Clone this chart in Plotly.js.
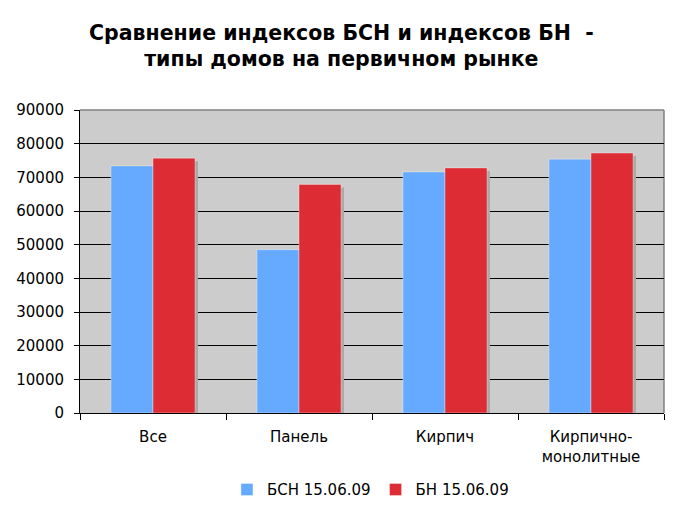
<!DOCTYPE html>
<html>
<head>
<meta charset="utf-8">
<script src="https://cdn.plot.ly/plotly-3.0.1.min.js"></script>
<style>html,body{margin:0;padding:0;background:#fff;}#chart{width:676px;height:507px;}</style>
</head>
<body>
<div id="chart"></div>
<script>
const categories = ["Все", "Панель", "Кирпич", "Кирпично-<br>монолитные"];
const seriesNames = ["БСН 15.06.09", "БН 15.06.09"];
const bsnValues = [73400, 48500, 71600, 75400];
const bnValues = [75700, 67900, 72800, 77200];
const yTicks = [0, 10000, 20000, 30000, 40000, 50000, 60000, 70000, 80000, 90000];

const FONT = "DejaVu Sans, Verdana, sans-serif";
const BLUE = "#65aaff";
const RED = "#dd2c33";
const W = 0.288;

function shadow(vals, off) {
  return {type: "bar", x: categories, y: vals, width: W, offset: off + 0.02, base: -900,
    marker: {color: "#a9a9a9", line: {width: 0}}, showlegend: false, hoverinfo: "skip"};
}

const data = [
  shadow(bsnValues, -W),
  shadow(bnValues, 0),
  {type: "bar", name: seriesNames[0], x: categories, y: bsnValues, width: W, offset: -W,
    marker: {color: BLUE, line: {color: "rgba(255,255,255,0.35)", width: 1}}},
  {type: "bar", name: seriesNames[1], x: categories, y: bnValues, width: W, offset: 0,
    marker: {color: RED, line: {color: "rgba(255,255,255,0.35)", width: 1}}}
];

const layout = {
  width: 676, height: 507,
  paper_bgcolor: "#ffffff", plot_bgcolor: "#cccccc",
  barmode: "overlay",
  margin: {l: 80, r: 12, t: 110, b: 94},
  font: {family: FONT, size: 15, color: "#000"},
  title: {text: "<b>Сравнение индексов БСН и индексов БН  -<br>типы домов на первичном рынке</b>",
    font: {family: FONT, size: 20.5, color: "#000"},
    x: 0.505, xanchor: "center", xref: "container", y: 0.922, yref: "container", yanchor: "top"},
  xaxis: {type: "category", tickson: "boundaries", ticks: "outside", ticklen: 6, tickcolor: "#000",
    showline: true, linecolor: "#000", linewidth: 1, showgrid: false,
    tickfont: {family: FONT, size: 15}, range: [-0.5, 3.5], ticklabelstandoff: 10},
  yaxis: {range: [0, 90000], tickvals: yTicks, tickformat: "d", ticks: "outside", ticklen: 5, tickcolor: "#000",
    showline: true, linecolor: "#000", linewidth: 1, showgrid: true, gridcolor: "#000", gridwidth: 1,
    zeroline: false, tickfont: {family: FONT, size: 15}, ticklabelstandoff: 7},
  shapes: [
    {type: "line", xref: "paper", yref: "paper", x0: 0, x1: 1, y0: 1, y1: 1, layer: "between", line: {color: "#808080", width: 1.5}},
    {type: "line", xref: "paper", yref: "paper", x0: 1, x1: 1, y0: 0, y1: 1, layer: "between", line: {color: "#808080", width: 1.5}}
  ],
  legend: {orientation: "h", x: 0.548, xanchor: "center", xref: "container", y: 0.034, yref: "container", yanchor: "middle",
    font: {family: FONT, size: 15}, itemwidth: 30, traceorder: "normal"},
  showlegend: true
};

Plotly.newPlot("chart", data, layout, {displayModeBar: false, staticPlot: true});
</script>
</body>
</html>
